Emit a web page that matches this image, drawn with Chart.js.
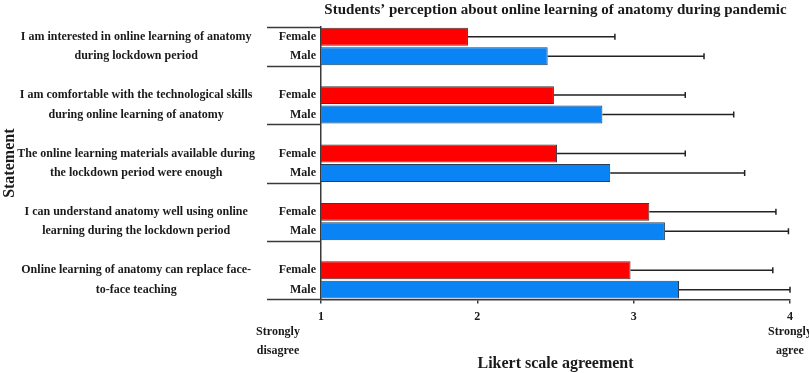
<!DOCTYPE html>
<html><head><meta charset="utf-8">
<script src="https://cdn.jsdelivr.net/npm/chart.js@4/dist/chart.umd.min.js"></script>
<style>html,body{margin:0;padding:0;background:#fff}</style>
</head><body>
<canvas id="c" width="809" height="373"></canvas>
<script>
// ---- data ----
const statements = [
  ["I am interested in online learning of anatomy", "during lockdown period"],
  ["I am comfortable with the technological skills", "during online learning of anatomy"],
  ["The online learning materials available during", "the lockdown period were enough"],
  ["I can understand anatomy well using online", "learning during the lockdown period"],
  ["Online learning of anatomy can replace face-", "to-face teaching"]
];
const groups = ["Female", "Male"];
const femaleMean = [1.94, 2.49, 2.51, 3.10, 2.98];
const femaleSD   = [0.94, 0.84, 0.82, 0.81, 0.91];
const maleMean   = [2.45, 2.80, 2.85, 3.20, 3.29];
const maleSD     = [1.00, 0.84, 0.86, 0.79, 0.71];
const xTickValues = [1, 2, 3, 4];
const scaleEndValues = [1, 4];
const scaleEndLabels = [["Strongly", "disagree"], ["Strongly", "agree"]];

// ---- slots: Female, Male, gap, Female, Male, ... ----
const slotLabels = [], slotStatement = [], femaleSlots = [], maleSlots = [], femaleSDSlots = [], maleSDSlots = [];
statements.forEach((s, i) => {
  if (i > 0) {
    slotLabels.push(""); slotStatement.push("");
    femaleSlots.push(null); maleSlots.push(null); femaleSDSlots.push(null); maleSDSlots.push(null);
  }
  slotLabels.push(groups[0]); slotStatement.push(s[0]);
  femaleSlots.push(femaleMean[i]); maleSlots.push(null);
  femaleSDSlots.push(femaleSD[i]); maleSDSlots.push(null);
  slotLabels.push(groups[1]); slotStatement.push(s[1]);
  femaleSlots.push(null); maleSlots.push(maleMean[i]);
  femaleSDSlots.push(null); maleSDSlots.push(maleSD[i]);
});

const FONT = "'Liberation Serif', 'Times New Roman', serif";
const INK = "#1a1a1a";
const LINE = "#3a3a3a";

const errorBars = {
  id: "errorBars",
  afterDatasetsDraw(chart) {
    const ctx = chart.ctx, xs = chart.scales.x;
    [femaleSDSlots, maleSDSlots].forEach((sds, di) => {
      const meta = chart.getDatasetMeta(di);
      meta.data.forEach((el, j) => {
        const v = chart.data.datasets[di].data[j];
        if (v == null || sds[j] == null) return;
        const x1 = xs.getPixelForValue(v + sds[j]);
        ctx.save();
        ctx.strokeStyle = "#222"; ctx.lineWidth = 1.5;
        ctx.beginPath();
        ctx.moveTo(el.x, el.y); ctx.lineTo(x1, el.y);
        ctx.moveTo(x1, el.y - 3); ctx.lineTo(x1, el.y + 3);
        ctx.stroke();
        ctx.restore();
      });
    });
  }
};

const separators = {
  id: "separators",
  afterDraw(chart) {
    const ctx = chart.ctx, ys = chart.scales.y, xs = chart.scales.x;
    const step = ys.getPixelForValue(1) - ys.getPixelForValue(0);
    const idx = [0];
    slotLabels.forEach((l, i) => { if (l === "") idx.push(i); });
    idx.push(slotLabels.length);
    ctx.save();
    ctx.strokeStyle = LINE; ctx.lineWidth = 1.5;
    idx.forEach(b => {
      const py = Math.round(ys.getPixelForValue(b) - step / 2) + 0.5;
      ctx.beginPath();
      ctx.moveTo(ys.left - 6, py);
      ctx.lineTo(chart.chartArea.left, py);
      ctx.stroke();
    });
    // scale-end annotations under the x axis
    ctx.fillStyle = INK;
    ctx.font = "bold 12px " + FONT;
    ctx.textAlign = "center"; ctx.textBaseline = "middle";
    scaleEndValues.forEach((v, k) => {
      let px = xs.getPixelForValue(v);
      if (k === 0) px -= 43;
      scaleEndLabels[k].forEach((t, li) => ctx.fillText(t, px, xs.top + 33 + li * 19));
    });
    ctx.restore();
  }
};

new Chart(document.getElementById("c"), {
  type: "bar",
  data: {
    labels: slotLabels,
    datasets: [
      { label: groups[0], data: femaleSlots, backgroundColor: "#ff0000", borderColor: "#3a3a3a", borderWidth: 1, borderSkipped: false },
      { label: groups[1], data: maleSlots, backgroundColor: "#0a84f5", borderColor: "#2a3f55", borderWidth: 1, borderSkipped: false }
    ]
  },
  options: {
    responsive: false,
    animation: false,
    indexAxis: "y",
    skipNull: true,
    categoryPercentage: 0.92,
    barPercentage: 1.0,
    layout: { padding: { left: 0, right: 19, top: 0, bottom: 0 } },
    plugins: {
      legend: { display: false },
      tooltip: { enabled: false },
      title: {
        display: true,
        text: "Students\u2019 perception about online learning of anatomy during pandemic",
        fullSize: false,
        color: INK,
        font: { family: FONT, size: 15, weight: "bold" },
        padding: { top: 1, bottom: 8 }
      }
    },
    scales: {
      x: {
        type: "linear", min: 1, max: 4,
        afterBuildTicks: s => { s.ticks = xTickValues.map(v => ({ value: v })); },
        ticks: { color: INK, font: { family: FONT, size: 12, weight: "bold" }, padding: 6 },
        grid: { drawOnChartArea: false, drawTicks: true, tickLength: 4, color: LINE, lineWidth: 1.5 },
        border: { display: true, color: LINE, width: 1.5 },
        title: {
          display: true, text: "Likert scale agreement", color: INK,
          font: { family: FONT, size: 16, weight: "bold" },
          padding: { top: 24, bottom: 0 }
        }
      },
      y: {
        type: "category",
        weight: 0,
        ticks: { color: INK, font: { family: FONT, size: 12, weight: "bold" }, padding: 5, crossAlign: "near", autoSkip: false },
        grid: { display: false, drawTicks: false },
        border: { display: true, color: LINE, width: 1.5 },
        afterFit: s => { s.width = 48; }
      },
      y2: {
        type: "category",
        position: "left",
        weight: 10,
        labels: slotStatement,
        ticks: { color: INK, font: { family: FONT, size: 12, weight: "bold" }, padding: 18, crossAlign: "center", autoSkip: false },
        grid: { display: false, drawTicks: false },
        border: { display: false },
        title: {
          display: true, text: "Statement", color: INK,
          font: { family: FONT, size: 16, weight: "bold" },
          padding: { top: 0, bottom: 0 }
        },
        afterFit: s => { s.width = 273; }
      }
    }
  },
  plugins: [errorBars, separators]
});
</script>
</body></html>
